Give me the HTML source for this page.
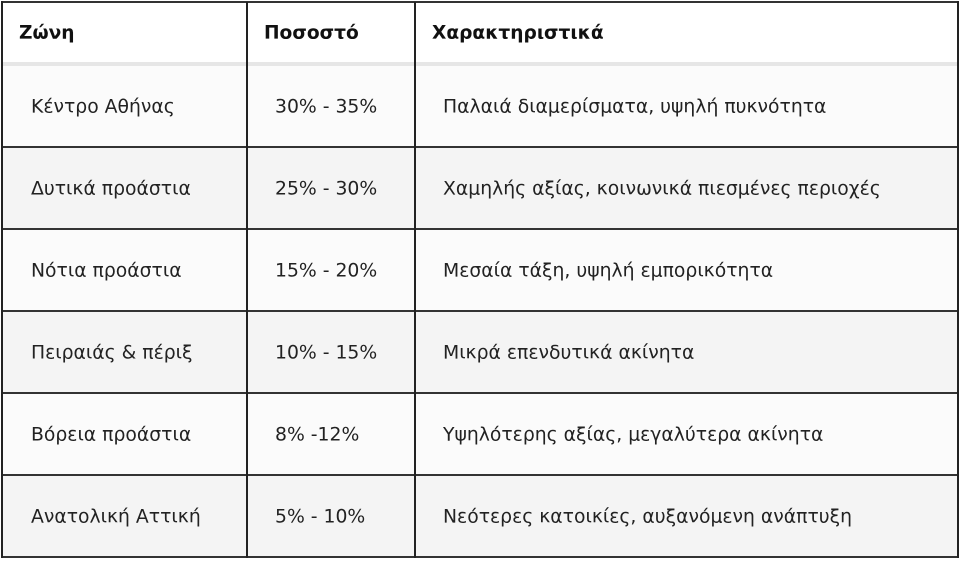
<!DOCTYPE html>
<html><head><meta charset="utf-8"><style>
body{margin:0;width:960px;height:561px;background:#fff;position:relative;overflow:hidden;font-family:"DejaVu Sans","Liberation Sans",sans-serif;color:#222}
.r{position:absolute;left:2px;width:956px}
.t{position:absolute;font-size:18.8px;white-space:nowrap;transform:translateY(-50%)}
.h{font-weight:bold;color:#111;font-size:18.6px}
.v{position:absolute;top:2px;height:556px;width:2px;background:#222}
.hl{position:absolute;left:2px;width:956px;height:2px;background:#333}
</style></head><body>
<div class="r" style="top:2px;height:62px;background:#fff"></div>
<div class="r" style="top:62px;height:4px;background:#e6e6e6"></div>
<div class="r" style="top:66px;height:80px;background:#fbfbfb"></div>
<div class="r" style="top:148px;height:80px;background:#f4f4f4"></div>
<div class="r" style="top:230px;height:80px;background:#fbfbfb"></div>
<div class="r" style="top:312px;height:80px;background:#f4f4f4"></div>
<div class="r" style="top:394px;height:80px;background:#fbfbfb"></div>
<div class="r" style="top:476px;height:80px;background:#f4f4f4"></div>
<div class="hl" style="top:1px"></div>
<div class="hl" style="top:146px"></div>
<div class="hl" style="top:228px"></div>
<div class="hl" style="top:310px"></div>
<div class="hl" style="top:392px"></div>
<div class="hl" style="top:474px"></div>
<div class="hl" style="top:556px"></div>
<div class="v" style="left:1px;top:1px;height:557px"></div>
<div class="v" style="left:246px"></div>
<div class="v" style="left:414px"></div>
<div class="v" style="left:957px;top:1px;height:557px"></div>
<div class="t h" style="left:19px;top:33px">Ζώνη</div>
<div class="t h" style="left:264px;top:33px">Ποσοστό</div>
<div class="t h" style="left:432px;top:33px">Χαρακτηριστικά</div>

<div class="t" style="left:31px;top:107px">Κέντρο Αθήνας</div>
<div class="t" style="left:275px;top:107px">30% - 35%</div>
<div class="t" style="left:443px;top:107px">Παλαιά διαμερίσματα, υψηλή πυκνότητα</div>

<div class="t" style="left:31px;top:189px">Δυτικά προάστια</div>
<div class="t" style="left:275px;top:189px">25% - 30%</div>
<div class="t" style="left:443px;top:189px">Χαμηλής αξίας, κοινωνικά πιεσμένες περιοχές</div>

<div class="t" style="left:31px;top:271px">Νότια προάστια</div>
<div class="t" style="left:275px;top:271px">15% - 20%</div>
<div class="t" style="left:443px;top:271px">Μεσαία τάξη, υψηλή εμπορικότητα</div>

<div class="t" style="left:31px;top:353px">Πειραιάς &amp; πέριξ</div>
<div class="t" style="left:275px;top:353px">10% - 15%</div>
<div class="t" style="left:443px;top:353px">Μικρά επενδυτικά ακίνητα</div>

<div class="t" style="left:31px;top:435px">Βόρεια προάστια</div>
<div class="t" style="left:275px;top:435px">8% -12%</div>
<div class="t" style="left:443px;top:435px">Υψηλότερης αξίας, μεγαλύτερα ακίνητα</div>

<div class="t" style="left:31px;top:517px">Ανατολική Αττική</div>
<div class="t" style="left:275px;top:517px">5% - 10%</div>
<div class="t" style="left:443px;top:517px">Νεότερες κατοικίες, αυξανόμενη ανάπτυξη</div>
</body></html>
